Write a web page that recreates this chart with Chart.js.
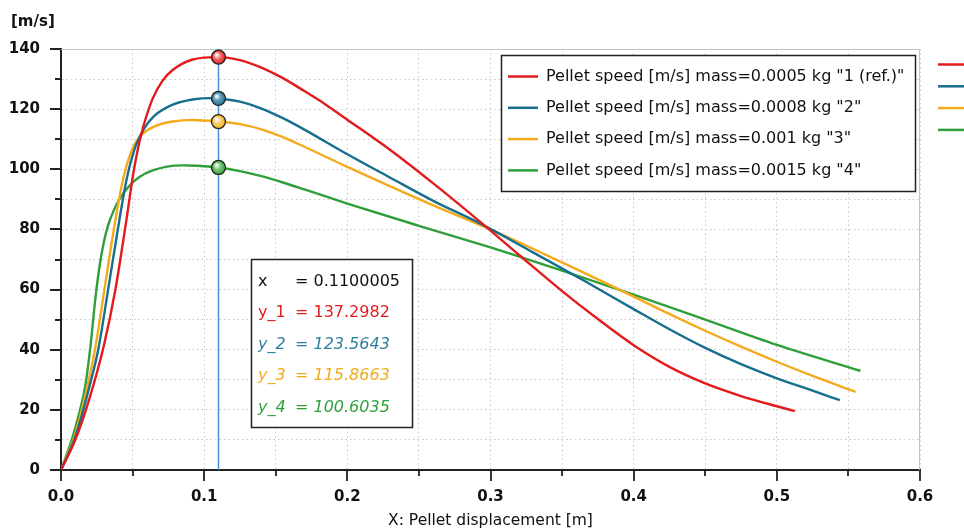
<!DOCTYPE html>
<html>
<head>
<meta charset="utf-8">
<script src="https://cdn.jsdelivr.net/npm/chart.js@4.4.1/dist/chart.umd.min.js"></script>
<style>
  html, body { margin: 0; padding: 0; background: #fff; }
  #wrap { width: 964px; height: 530px; }
</style>
</head>
<body>
<div id="wrap"><canvas id="chart" width="964" height="530"></canvas></div>
<script>
// ── Data ───────────────────────────────────────────────────
const seriesLabels = [
  'Pellet speed [m/s] mass=0.0005 kg "1 (ref.)"',
  'Pellet speed [m/s] mass=0.0008 kg "2"',
  'Pellet speed [m/s] mass=0.001 kg "3"',
  'Pellet speed [m/s] mass=0.0015 kg "4"',
];
const seriesColors = ['#e31b1c', '#176f8e', '#f4aa1c', '#2f9f3a'];
const markerFills  = ['#f26a6a', '#5b9bb9', '#f9cd6c', '#74c476'];
const readoutColors = ['#e31b1c', '#2f7f9f', '#f2aa1c', '#2f9f3a'];

const xs1 = [0, 0.01, 0.02, 0.03, 0.038, 0.045, 0.051, 0.056, 0.064, 0.071, 0.078, 0.092, 0.11, 0.125, 0.14, 0.155, 0.17, 0.185, 0.2, 0.23, 0.26, 0.2926, 0.32, 0.35, 0.375, 0.4, 0.425, 0.45, 0.475, 0.5, 0.5126];
const ys1 = [0, 10, 24, 41.5, 60, 81, 100, 111.5, 123.5, 129.5, 133, 136.5, 137.3, 136.3, 133.8, 130.3, 126, 121.5, 116.5, 106.4, 95.3, 82.6, 71.5, 59.5, 50.2, 41.5, 34.3, 28.8, 24.6, 21.2, 19.6];

const xs2 = [0, 0.01, 0.015, 0.02, 0.026, 0.0326, 0.039, 0.046, 0.052, 0.058, 0.065, 0.078, 0.092, 0.105, 0.11, 0.125, 0.14, 0.155, 0.17, 0.2, 0.23, 0.26, 0.2926, 0.33, 0.367, 0.4, 0.425, 0.45, 0.475, 0.5, 0.525, 0.544];
const ys2 = [0, 11, 19, 28, 40, 59, 78, 97, 107.5, 113.5, 117.7, 121.5, 123.2, 123.65, 123.56, 122.5, 120.2, 117, 113.2, 105, 97.2, 89.5, 82, 72.3, 62.5, 53.5, 46.8, 40.6, 35.2, 30.5, 26.4, 23.2];

const xs3 = [0, 0.01, 0.014, 0.019, 0.0237, 0.03, 0.0362, 0.0435, 0.0505, 0.057, 0.065, 0.078, 0.092, 0.11, 0.125, 0.14, 0.155, 0.17, 0.2, 0.23, 0.26, 0.2926, 0.33, 0.36, 0.39, 0.42, 0.45, 0.475, 0.5, 0.525, 0.555];
const ys3 = [0, 12, 19, 29, 40, 59, 78, 97, 107.5, 111.8, 114.2, 115.9, 116.4, 115.87, 115, 113.3, 110.7, 107.5, 100.8, 94.3, 88, 81.5, 73.5, 66.8, 60, 53, 46.3, 41, 36, 31.3, 26];

const xs4 = [0, 0.0075, 0.0133, 0.017, 0.0203, 0.024, 0.027, 0.03, 0.033, 0.037, 0.041, 0.048, 0.055, 0.064, 0.074, 0.085, 0.095, 0.11, 0.125, 0.14, 0.155, 0.17, 0.2, 0.25, 0.3, 0.318, 0.35, 0.4, 0.45, 0.5, 0.5584];
const ys4 = [0, 10, 20, 28, 40, 57, 68, 76, 81.5, 86.5, 90.2, 94.6, 97.5, 99.6, 100.9, 101.3, 101.2, 100.6, 99.4, 97.7, 95.6, 93.3, 88.6, 81.2, 74, 71.3, 66.3, 58.3, 50, 41.6, 33];

const cursorX = 0.1100005;
const cursorY = [137.2982, 123.5643, 115.8663, 100.6035];

const xTitle = 'X: Pellet displacement [m]';
const yUnit = '[m/s]';

// ── Helpers ────────────────────────────────────────────────
const FONT = '"DejaVu Sans", Verdana, sans-serif';
const pts = (xs, ys) => xs.map((x, i) => ({ x, y: ys[i] }));
const isMajorX = v => Math.abs(v * 10 - Math.round(v * 10)) < 1e-6;
const isMajorY = v => Math.abs(v % 20) < 1e-6;

const overlay = {
  id: 'overlay',
  afterDraw(chart) {
    const { ctx, chartArea: a, scales: { x, y } } = chart;
    ctx.save();

    // plot frame (top / right)
    ctx.strokeStyle = '#c4c4c4';
    ctx.lineWidth = 1;
    ctx.beginPath();
    ctx.moveTo(a.left, a.top + 0.5); ctx.lineTo(a.right - 0.5, a.top + 0.5);
    ctx.lineTo(a.right - 0.5, a.bottom);
    ctx.stroke();

    // tick marks
    ctx.strokeStyle = '#222';
    ctx.lineWidth = 1.8;
    ctx.beginPath();
    y.ticks.forEach(t => {
      const py = Math.round(y.getPixelForValue(t.value));
      const len = isMajorY(t.value) ? 11 : 6;
      ctx.moveTo(a.left - len, py); ctx.lineTo(a.left, py);
    });
    x.ticks.forEach(t => {
      const px = Math.round(x.getPixelForValue(t.value));
      const len = isMajorX(t.value) ? 11 : 6;
      ctx.moveTo(px, a.bottom); ctx.lineTo(px, a.bottom + len);
    });
    ctx.stroke();

    // cursor line
    const cx = x.getPixelForValue(cursorX);
    ctx.strokeStyle = '#4a8fdc';
    ctx.lineWidth = 1.5;
    ctx.beginPath();
    ctx.moveTo(cx, a.top); ctx.lineTo(cx, a.bottom);
    ctx.stroke();

    // cursor markers
    cursorY.forEach((v, i) => {
      const cy = y.getPixelForValue(v);
      const g = ctx.createRadialGradient(cx - 2, cy - 2.5, 0.5, cx, cy, 7.5);
      g.addColorStop(0, '#ffffff');
      g.addColorStop(0.45, markerFills[i]);
      g.addColorStop(1, seriesColors[i]);
      ctx.beginPath();
      ctx.arc(cx, cy, 7, 0, Math.PI * 2);
      ctx.fillStyle = g;
      ctx.fill();
      ctx.strokeStyle = '#222';
      ctx.lineWidth = 1.3;
      ctx.stroke();
    });

    // legend box
    ctx.fillStyle = '#fff';
    ctx.fillRect(501, 55, 414, 136);
    ctx.strokeStyle = '#222';
    ctx.lineWidth = 1.5;
    ctx.strokeRect(501.5, 55.5, 414, 136);
    ctx.font = '16px ' + FONT;
    ctx.textBaseline = 'middle';
    ctx.textAlign = 'left';
    seriesLabels.forEach((lbl, i) => {
      const ly = 76.5 + i * 31.3;
      ctx.strokeStyle = seriesColors[i];
      ctx.lineWidth = 2.5;
      ctx.beginPath();
      ctx.moveTo(508, ly); ctx.lineTo(538, ly);
      ctx.stroke();
      ctx.fillStyle = '#111';
      ctx.fillText(lbl, 546, ly);
    });

    // clipped second legend at the right edge
    seriesColors.forEach((c, i) => {
      const ly = 64.5 + i * 21.8;
      ctx.strokeStyle = c;
      ctx.lineWidth = 2.5;
      ctx.beginPath();
      ctx.moveTo(938, ly); ctx.lineTo(964, ly);
      ctx.stroke();
    });

    // readout box
    ctx.fillStyle = '#fff';
    ctx.fillRect(251, 259, 161, 168);
    ctx.strokeStyle = '#222';
    ctx.lineWidth = 1.5;
    ctx.strokeRect(251.5, 259.5, 161, 168);
    ctx.font = '16px ' + FONT;
    ctx.fillStyle = '#111';
    ctx.fillText('x', 258, 282);
    ctx.fillText('= ' + cursorX.toFixed(7), 295, 282);
    cursorY.forEach((v, i) => {
      const ry = 313 + i * 31.5;
      ctx.font = (i === 0 ? '' : 'italic ') + '16px ' + FONT;
      ctx.fillStyle = readoutColors[i];
      ctx.fillText('y_' + (i + 1), 258, ry);
      ctx.fillText('= ' + v.toFixed(4), 295, ry);
    });

    // unit label
    ctx.font = 'bold 15px ' + FONT;
    ctx.fillStyle = '#111';
    ctx.fillText(yUnit, 11, 22);

    ctx.restore();
  }
};

new Chart(document.getElementById('chart'), {
  type: 'line',
  data: {
    datasets: [
      { label: seriesLabels[0], data: pts(xs1, ys1), borderColor: seriesColors[0] },
      { label: seriesLabels[1], data: pts(xs2, ys2), borderColor: seriesColors[1] },
      { label: seriesLabels[2], data: pts(xs3, ys3), borderColor: seriesColors[2] },
      { label: seriesLabels[3], data: pts(xs4, ys4), borderColor: seriesColors[3] },
    ].map(d => Object.assign(d, {
      borderWidth: 2.4,
      pointRadius: 0,
      fill: false,
      cubicInterpolationMode: 'monotone',
    })),
  },
  options: {
    responsive: false,
    animation: false,
    devicePixelRatio: 1,
    layout: { padding: { left: 0, right: 44, top: 49, bottom: 0 } },
    scales: {
      x: {
        type: 'linear',
        min: 0, max: 0.6,
        afterFit: s => { s.height = 60; },
        grid: { color: '#c9c9c9', lineWidth: 1, drawTicks: false },
        border: { color: '#222', width: 2, dash: [1.5, 3] },
        ticks: {
          stepSize: 0.05,
          autoSkip: false,
          maxRotation: 0,
          padding: 18,
          color: '#111',
          font: { family: FONT, size: 15, weight: 'bold' },
          callback: v => isMajorX(v) ? v.toFixed(1) : '',
        },
        title: {
          display: true,
          text: xTitle,
          color: '#111',
          padding: { top: 0, bottom: 0 },
          font: { family: FONT, size: 15.5 },
        },
      },
      y: {
        min: 0, max: 140,
        afterFit: s => { s.width = 61; },
        grid: { color: '#c9c9c9', lineWidth: 1, drawTicks: false },
        border: { color: '#222', width: 2, dash: [1.5, 3] },
        ticks: {
          stepSize: 10,
          autoSkip: false,
          padding: 21,
          color: '#111',
          font: { family: FONT, size: 15, weight: 'bold' },
          callback: v => isMajorY(v) ? v : '',
        },
      },
    },
    plugins: {
      legend: { display: false },
      tooltip: { enabled: false },
    },
  },
  plugins: [overlay],
});
</script>
</body>
</html>
